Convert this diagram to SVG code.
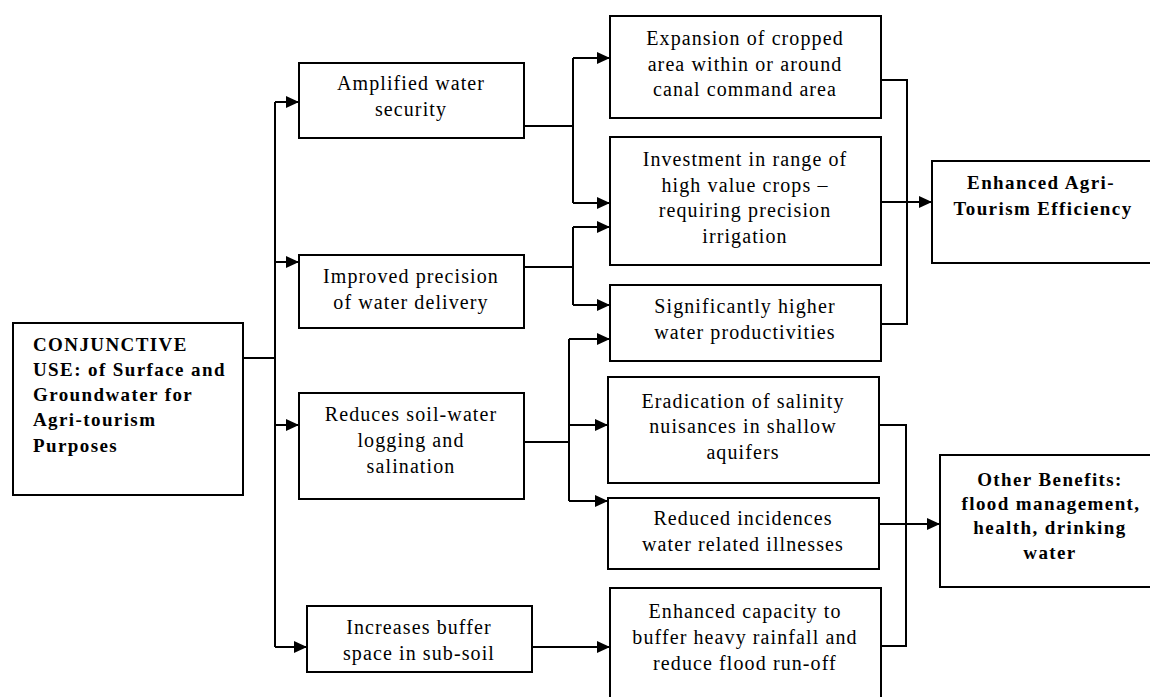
<svg xmlns="http://www.w3.org/2000/svg" width="1150" height="697" viewBox="0 0 1150 697">
<defs>
<marker id="ah" markerUnits="userSpaceOnUse" markerWidth="13" markerHeight="12" refX="13" refY="6" orient="auto">
<path d="M0,0 L13,6 L0,12 z" fill="#000"/>
</marker>
<style>
.box{fill:#fff;stroke:#000;stroke-width:2}
.t{font-family:"Liberation Serif","Times New Roman",serif;font-size:20px;fill:#000;text-anchor:middle;letter-spacing:1.1px}
.b{font-family:"Liberation Serif","Times New Roman",serif;font-size:19px;font-weight:bold;fill:#000;letter-spacing:1.4px}
.bc{text-anchor:middle}
.c{fill:none;stroke:#000;stroke-width:2}
.a{fill:none;stroke:#000;stroke-width:2;marker-end:url(#ah)}
</style>
</defs>
<rect width="1150" height="697" fill="#fff"/>
<g id="connectors">
<path class="c" d="M243,358 H275 M275,102 V647"/>
<path class="a" d="M275,102 H299"/>
<path class="a" d="M275,262 H299"/>
<path class="a" d="M275,425 H299"/>
<path class="a" d="M275,647 H307"/>
<path class="c" d="M524,126 H573 M573,58 V203"/>
<path class="a" d="M573,58 H610"/>
<path class="a" d="M573,203 H610"/>
<path class="c" d="M524,267 H573 M573,227 V305"/>
<path class="a" d="M573,227 H610"/>
<path class="a" d="M573,305 H610"/>
<path class="c" d="M524,442 H569 M569,339 V501"/>
<path class="a" d="M569,339 H610"/>
<path class="a" d="M569,425 H608"/>
<path class="a" d="M569,501 H608"/>
<path class="a" d="M532,647 H610"/>
<path class="c" d="M881,80 H907 V324 H881"/>
<path class="a" d="M881,202 H932"/>
<path class="c" d="M879,425 H906 V646 H881"/>
<path class="a" d="M879,524 H940"/>
</g>
<g id="main">
<rect class="box" x="13" y="323" width="230" height="172"/>
<text class="b" x="33" y="351">CONJUNCTIVE</text>
<text class="b" x="33" y="376">USE: of Surface and</text>
<text class="b" x="33" y="401">Groundwater for</text>
<text class="b" x="33" y="426">Agri-tourism</text>
<text class="b" x="33" y="452">Purposes</text>
</g>
<g id="amplified">
<rect class="box" x="299" y="63" width="225" height="75"/>
<text class="t" x="411" y="90">Amplified water</text>
<text class="t" x="411" y="116">security</text>
</g>
<g id="improved">
<rect class="box" x="299" y="255" width="225" height="73"/>
<text class="t" x="411" y="283">Improved precision</text>
<text class="t" x="411" y="309">of water delivery</text>
</g>
<g id="reduces">
<rect class="box" x="299" y="393" width="225" height="106"/>
<text class="t" x="411" y="421">Reduces soil-water</text>
<text class="t" x="411" y="447">logging and</text>
<text class="t" x="411" y="473">salination</text>
</g>
<g id="increases">
<rect class="box" x="307" y="606" width="225" height="66"/>
<text class="t" x="419" y="634">Increases buffer</text>
<text class="t" x="419" y="660">space in sub-soil</text>
</g>
<g id="expansion">
<rect class="box" x="610" y="16" width="271" height="102"/>
<text class="t" x="745" y="45">Expansion of cropped</text>
<text class="t" x="745" y="71">area within or around</text>
<text class="t" x="745" y="96">canal command area</text>
</g>
<g id="investment">
<rect class="box" x="610" y="137" width="271" height="128"/>
<text class="t" x="745" y="166">Investment in range of</text>
<text class="t" x="745" y="192">high value crops –</text>
<text class="t" x="745" y="217">requiring precision</text>
<text class="t" x="745" y="243">irrigation</text>
</g>
<g id="significantly">
<rect class="box" x="610" y="285" width="271" height="76"/>
<text class="t" x="745" y="313">Significantly higher</text>
<text class="t" x="745" y="339">water productivities</text>
</g>
<g id="eradication">
<rect class="box" x="608" y="377" width="271" height="106"/>
<text class="t" x="743" y="408">Eradication of salinity</text>
<text class="t" x="743" y="433">nuisances in shallow</text>
<text class="t" x="743" y="459">aquifers</text>
</g>
<g id="reduced">
<rect class="box" x="608" y="498" width="271" height="71"/>
<text class="t" x="743" y="525">Reduced incidences</text>
<text class="t" x="743" y="551">water related illnesses</text>
</g>
<g id="capacity">
<rect class="box" x="610" y="588" width="271" height="120"/>
<text class="t" x="745" y="618">Enhanced capacity to</text>
<text class="t" x="745" y="644">buffer heavy rainfall and</text>
<text class="t" x="745" y="670">reduce flood run-off</text>
</g>
<g id="enhanced">
<rect class="box" x="932" y="161" width="240" height="102"/>
<text class="b bc" x="1041" y="189">Enhanced Agri-</text>
<text class="b bc" x="1043" y="215">Tourism Efficiency</text>
</g>
<g id="other">
<rect class="box" x="940" y="455" width="230" height="132"/>
<text class="b bc" x="1050" y="486">Other Benefits:</text>
<text class="b bc" x="1051" y="510">flood management,</text>
<text class="b bc" x="1050" y="534">health, drinking</text>
<text class="b bc" x="1050" y="559">water</text>
</g>
</svg>
